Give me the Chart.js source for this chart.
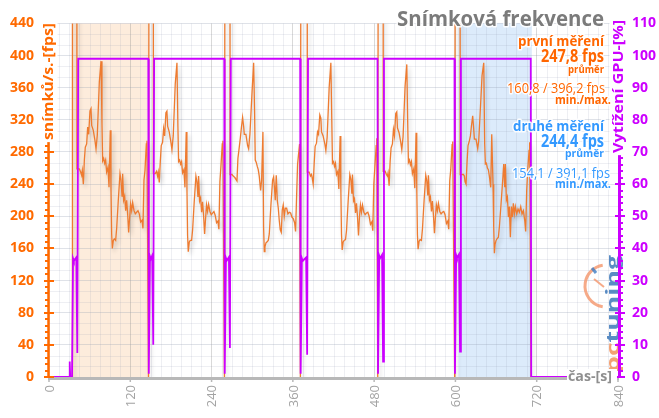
<!DOCTYPE html>
<html><head><meta charset="utf-8">
<script src="https://cdn.jsdelivr.net/npm/chart.js@4.4.1/dist/chart.umd.min.js"></script>
<style>html,body{margin:0;padding:0;background:#fff;}canvas{display:block}</style>
</head><body>
<canvas id="c" width="659" height="418" style="width:659px;height:418px"></canvas>
<script>
// ---- data ----
const runStarts = [43.3, 155.4, 268.6, 382.6, 494.7, 608.3];   // s, GPU busy start of each run
const runEnds   = [146.6, 258.7, 370.8, 485.0, 598.6, 711.2];  // s, GPU busy end of each run
const relTimes = [1.5,3.4,4.9,5.9,7.4,8.9,10.3,12.3,13.8,15.3,17.2,18.7,19.7,22.1,24.6,26.1,28,31,33.5,34.9,35.9,37.4,38.9,40.3,41.8,43.8,45.3,47.2,48.2,49.2,50.2,51.7,53.1,55.1,56.6,59,61.5,63,64.5,65.4,66.9,68.4,69.9,71.3,72.8,74.3,75.8,77.2,78.7,80.2,82.2,84.1,86.1,88.1,90,92,94,95.4,96.9,98.4,100.4,101.3];
const fpsRun1 = [259,255,251,257,240,270,286,290,311,302,331,334,313,307,294,284,301,367,393,315,269,272,266,270,255,261,236,307,236,178,160,170,172,170,185,220,253,245,225,253,220,225,207,220,203,180,199,215,207,217,207,203,205,207,203,193,195,185,245,257,290,294];
const fpsRun2 = [253,256,250,255,242,268,288,292,309,300,329,331,312,305,292,283,300,365,391,312,268,270,265,268,254,258,236,305,238,176,156,168,170,170,183,218,250,243,224,250,219,223,205,218,201,178,198,214,206,215,206,202,204,206,201,192,194,184,243,262,290,294];
const fpsRun3 = [252,250,249,248,246,244,272,286,297,309,323,312,302,302,288,284,302,352,391,330,270,267,262,258,250,232,245,305,187,156,162,167,168,170,178,214,245,249,232,220,251,220,210,195,183,180,208,214,200,210,210,203,205,204,199,197,192,181,224,265,282,290];
const fpsRun4 = [255,250,252,248,240,266,287,291,305,302,326,322,305,300,290,282,298,360,391,318,266,268,262,266,252,256,234,300,236,178,158,168,170,171,182,218,252,246,228,252,219,222,204,216,200,176,200,214,205,214,205,202,204,205,200,190,193,182,240,260,288,297];
const fpsRun5 = [256,252,250,254,238,268,285,290,308,300,328,330,310,304,292,283,299,362,389,314,267,270,264,268,253,259,235,304,237,177,159,169,171,170,184,219,251,244,226,251,220,224,206,219,202,179,199,214,207,216,206,203,205,206,202,191,194,184,244,258,289,293];
const fpsRun6 = [252,252,250,243,240,268,288,294,300,312,325,308,296,296,284,294,325,375,391,290,265,266,260,258,250,236,302,240,187,154,165,170,172,174,187,215,245,265,236,265,220,224,199,212,174,212,199,216,203,212,203,209,205,212,203,207,195,181,232,257,282,292];
const loadSpikeFps = 1000;          // loading screens run far above the 440 fps axis
const gpuBusy = 99;                 // % during runs
const gpuLoadPeak = [36.9, 37.5, 37.0, 36.9, 37.7, 37.9];
const gpuLoadDip  = [7.5, 10, 9, 6.9, 4.8, 7.9];
const firstRunShade  = [35.4, 148.0];
const secondRunShade = [604.4, 712.8];
const xTicks   = [0,120,240,360,480,600,720,840];
const fpsTicks = [0,40,80,120,160,200,240,280,320,360,400,440];
const gpuTicks = [0,10,20,30,40,50,60,70,80,90,100,110];
const legendTexts = {
  title: 'Snímková frekvence',
  first: ['první měření','247,8 fps','průměr','160,8 / 396,2 fps','min./max.'],
  second:['druhé měření','244,4 fps','průměr','154,1 / 391,1 fps','min./max.']
};

// ---- build series ----
const fpsRuns = [fpsRun1,fpsRun2,fpsRun3,fpsRun4,fpsRun5,fpsRun6];
const fpsPoints = [{x:0,y:0},{x:34,y:0},{x:34.6,y:loadSpikeFps},{x:41,y:loadSpikeFps},{x:41.2,y:fpsRun1[0]}];
fpsRuns.forEach((run,k)=>{
  relTimes.forEach((r,i)=>fpsPoints.push({x:runStarts[k]+r,y:run[i]}));
  if(k<fpsRuns.length-1){
    fpsPoints.push({x:runEnds[k]+0.3,y:0},{x:runEnds[k]+1.5,y:loadSpikeFps},
      {x:runStarts[k+1]-1.5,y:loadSpikeFps},{x:runStarts[k+1]-1.3,y:fpsRuns[k+1][0]});
  } else fpsPoints.push({x:runEnds[k]+0.4,y:0});
});
const gpuPoints = [{x:0,y:0},{x:30,y:0},{x:30.6,y:4.8},{x:31.3,y:0},{x:34,y:0}];
runStarts.forEach((S,k)=>{
  const L0 = k===0 ? 35.5 : runEnds[k-1]+2.5;
  if(k>0) gpuPoints.push({x:runEnds[k-1],y:gpuBusy},{x:runEnds[k-1]+0.7,y:1});
  gpuPoints.push({x:L0,y:gpuLoadPeak[k]},{x:L0+1.2,y:gpuLoadPeak[k]-0.8},{x:S-3,y:gpuLoadPeak[k]+0.3},
    {x:S-1.5,y:gpuLoadDip[k]},{x:S-0.2,y:gpuBusy});
});
gpuPoints.push({x:runEnds[5],y:gpuBusy},{x:runEnds[5]+0.7,y:0},{x:790,y:0});

// ---- drawing helpers ----
const FONT='"Open Sans"';
function txt(ctx,text,x,y,size,weight,color,targetW,align){
  ctx.save();
  ctx.font=`${weight} ${size}px ${FONT}`;
  const w=ctx.measureText(text).width;
  const sx=targetW? targetW/w : 1;
  ctx.translate(x,y); ctx.scale(sx,1);
  ctx.textAlign=align||'right'; ctx.textBaseline='middle';
  ctx.lineJoin='round'; ctx.strokeStyle='rgba(255,255,255,0.9)'; ctx.lineWidth=3;
  ctx.strokeText(text,0,0);
  ctx.fillStyle=color; ctx.fillText(text,0,0);
  ctx.restore();
}
function vtxt(ctx,text,cx,cy,size,color,len){
  ctx.save();
  ctx.font=`bold ${size}px ${FONT}`;
  const w=ctx.measureText(text).width; const s=len/w;
  ctx.translate(cx,cy); ctx.rotate(-Math.PI/2); ctx.scale(s,1);
  ctx.fillStyle='#fff'; ctx.fillRect(-w/2-2,-size*0.6,w+4,size*1.2);
  ctx.textAlign='center'; ctx.textBaseline='middle'; ctx.fillStyle=color; ctx.fillText(text,0,0);
  ctx.restore();
}

const backPlugin={id:'back',
  beforeDraw(chart){
    const {ctx,chartArea:a,scales:{x,y}}=chart;
    ctx.save();
    ctx.fillStyle='#fff'; ctx.fillRect(0,0,chart.width,chart.height);
    const shade=(r,c)=>{const x0=x.getPixelForValue(r[0]),x1=x.getPixelForValue(r[1]);ctx.fillStyle=c;ctx.fillRect(x0,a.top,x1-x0,a.bottom-a.top);};
    shade(firstRunShade,'#fdecdc'); shade(secondRunShade,'#dcebfb');
    ctx.lineWidth=1; ctx.strokeStyle='rgba(150,158,178,0.16)';
    ctx.beginPath();
    for(let v=15;v<840;v+=15){ if(v%120===0) continue; const p=Math.round(x.getPixelForValue(v))+0.5; ctx.moveTo(p,a.top); ctx.lineTo(p,a.bottom);}
    for(let i=1;i<33;i++){ if(i%3===0) continue; const p=Math.round(y.getPixelForValue(i*40/3))+0.5; ctx.moveTo(a.left,p); ctx.lineTo(a.right,p);}
    ctx.stroke();
    ctx.restore();
  }};
const shadowPlugin={id:'shadow',
  beforeDatasetDraw(chart,args){ if(args.index===1){const c=chart.ctx;c.save();c.shadowColor='rgba(0,0,0,0.2)';c.shadowBlur=4;c.shadowOffsetX=2;c.shadowOffsetY=3;} },
  afterDatasetDraw(chart,args){ if(args.index===1) chart.ctx.restore(); }};
const frontPlugin={id:'front',
  afterDraw(chart){
    const {ctx,chartArea:a,scales:{x,y,yR}}=chart;
    ctx.save();
    // watermark logo
    ctx.save(); ctx.globalAlpha=0.8;
    ctx.beginPath(); ctx.arc(606,286,21,Math.PI*0.55,Math.PI*1.45); ctx.strokeStyle='#f4956a'; ctx.lineWidth=3; ctx.stroke();
    ctx.beginPath(); ctx.moveTo(592,268); ctx.lineTo(596,273); ctx.strokeStyle='#3c7cc4'; ctx.lineWidth=3; ctx.stroke();
    ctx.beginPath(); ctx.moveTo(594,279); ctx.lineTo(604,287); ctx.strokeStyle='#f4956a'; ctx.lineWidth=2; ctx.stroke();
    ctx.translate(614,373); ctx.rotate(-Math.PI/2);
    ctx.font=`bold 18px ${FONT}`; const wl=ctx.measureText('pctuning').width; ctx.scale(118/wl,1);
    ctx.textBaseline='middle'; ctx.textAlign='left';
    ctx.fillStyle='#f08a50'; ctx.fillText('pc',0,0);
    const wp=ctx.measureText('pc').width; ctx.fillStyle='#2f6fb5'; ctx.fillText('tuning',wp,0);
    ctx.restore();
    // bottom axis
    ctx.strokeStyle='#b8b8b8'; ctx.lineWidth=3;
    ctx.beginPath(); ctx.moveTo(a.left-1,a.bottom+1.5); ctx.lineTo(a.right+1,a.bottom+1.5); ctx.stroke();
    ctx.lineWidth=1.5; ctx.beginPath();
    xTicks.forEach(v=>{const p=x.getPixelForValue(v); ctx.moveTo(p,a.bottom+2); ctx.lineTo(p,a.bottom+5);}); ctx.stroke();
    // x labels
    ctx.fillStyle='#a3a3a3'; ctx.font=`13px ${FONT}`;
    xTicks.forEach(v=>{const p=x.getPixelForValue(v); ctx.save(); ctx.translate(p+1,a.bottom+8); ctx.rotate(-Math.PI/2); ctx.textAlign='right'; ctx.textBaseline='middle'; ctx.fillText(String(v),0,0); ctx.restore();});
    // left axis
    ctx.strokeStyle='#ff6a00'; ctx.lineWidth=2.5;
    ctx.beginPath(); ctx.moveTo(a.left-0.5,a.top-1); ctx.lineTo(a.left-0.5,a.bottom+1); ctx.stroke();
    ctx.lineWidth=2; ctx.beginPath();
    for(let v=0;v<=440;v+=8){const p=Math.round(y.getPixelForValue(v)); if(v%40===0){ctx.moveTo(a.left-5,p);ctx.lineTo(a.left+5,p);} else {ctx.moveTo(a.left-4,p);ctx.lineTo(a.left,p);}}
    ctx.stroke();
    // right axis
    ctx.strokeStyle='#cc00ff'; ctx.lineWidth=3;
    ctx.beginPath(); ctx.moveTo(a.right+1.5,a.top-1); ctx.lineTo(a.right+1.5,a.bottom+1); ctx.stroke();
    ctx.lineWidth=2; ctx.beginPath();
    for(let v=0;v<=110;v+=2){const p=Math.round(yR.getPixelForValue(v)); if(v%10===0){ctx.moveTo(a.right-3,p);ctx.lineTo(a.right+7,p);} else {ctx.moveTo(a.right+1,p);ctx.lineTo(a.right+5,p);}}
    ctx.stroke();
    // axis titles
    vtxt(ctx,'snímků/s.-[fps]',48.5,81.5,15,'#ff6a00',117);
    vtxt(ctx,'Vytížení GPU-[%]',618.5,86.5,15,'#cc00ff',133);
    ctx.fillStyle='#fff'; ctx.fillRect(567,369,50,16);
    txt(ctx,'čas-[s]',612,376.5,15,'bold','#8f8f8f',44);
    // title & legend
    txt(ctx,legendTexts.title,604,20,22,'bold','#7b7b7b',207);
    const o='#ff6600', b='#3399ff';
    const f=legendTexts.first, s=legendTexts.second;
    txt(ctx,f[0],604,42.5,14,'bold',o,86);
    txt(ctx,f[1],604,57,17,'bold',o,63);
    txt(ctx,f[2],604,70,11,'bold',o,36);
    txt(ctx,f[3],605,89.5,14,'500',o,98);
    txt(ctx,f[4],611,100.5,11.5,'bold',o,56);
    txt(ctx,s[0],604,127,14,'bold',b,91);
    txt(ctx,s[1],604,142,17,'bold',b,63);
    txt(ctx,s[2],604,154,11,'bold',b,39);
    txt(ctx,s[3],610,174.5,14,'500',b,98);
    txt(ctx,s[4],611,185,11.5,'bold',b,56);
    ctx.restore();
  }};

new Chart(document.getElementById('c'),{
  type:'line',
  data:{datasets:[
    {label:'Vytížení GPU [%]',data:gpuPoints,yAxisID:'yR',borderColor:'#cc00ff',borderWidth:1.8,pointRadius:0,tension:0,fill:false},
    {label:'první měření',data:fpsPoints,yAxisID:'y',borderColor:'#ee7b30',borderWidth:1.3,pointRadius:0,tension:0,fill:false}
  ]},
  options:{
    responsive:false,animation:false,devicePixelRatio:1,
    layout:{padding:{top:23,left:0,right:0,bottom:0}},
    plugins:{legend:{display:false},tooltip:{enabled:false},title:{display:false}},
    scales:{
      x:{type:'linear',min:0,max:840,position:'bottom',
         afterFit(s){s.height=41;},
         afterBuildTicks(s){s.ticks=xTicks.map(v=>({value:v}));},
         ticks:{display:false},
         grid:{color:'rgba(140,140,140,0.33)',drawTicks:false,lineWidth:1},border:{display:false}},
      y:{type:'linear',min:0,max:440,position:'left',
         afterFit(s){s.width=49;},
         afterBuildTicks(s){s.ticks=fpsTicks.map(v=>({value:v}));},
         ticks:{padding:15,color:'#ff6a00',font:{family:'Open Sans',size:14,weight:'bold'}},
         grid:{color:'rgba(150,158,178,0.3)',drawTicks:false},border:{display:false}},
      yR:{type:'linear',min:0,max:110,position:'right',
         afterFit(s){s.width=41;},
         afterBuildTicks(s){s.ticks=gpuTicks.map(v=>({value:v}));},
         ticks:{padding:14,color:'#cc00ff',font:{family:'Open Sans',size:14,weight:'bold'}},
         grid:{drawOnChartArea:false,drawTicks:false},border:{display:false}}
    }
  },
  plugins:[backPlugin,shadowPlugin,frontPlugin]
});
</script>
</body></html>
